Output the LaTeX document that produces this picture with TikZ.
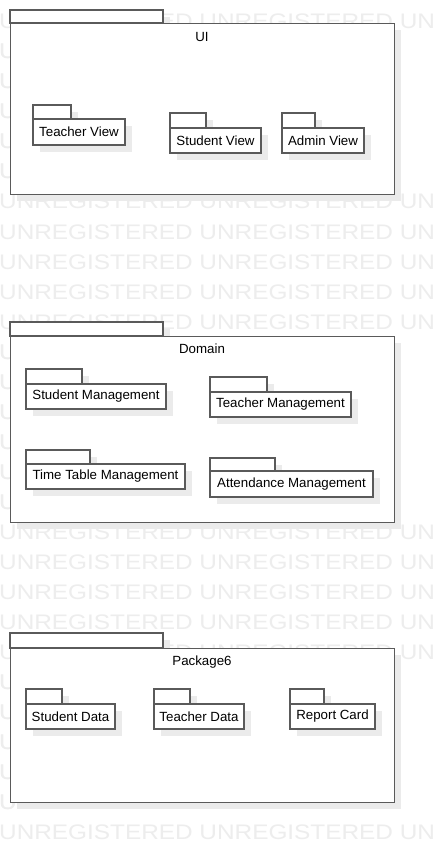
\documentclass[tikz,border=0pt]{standalone}
\usepackage{fontspec}
\setmainfont{Liberation Sans}
\definecolor{linec}{HTML}{5A5A5A}
\definecolor{shadowc}{HTML}{EBEBEB}
\definecolor{wmc}{HTML}{EDEDED}
\newlength\wmoff
\tikzset{
  pkgline/.style={draw=linec, line width=1.4pt, fill=white},
  pkgbody/.style={pkgline, anchor=north west, inner sep=0pt, outer sep=0pt,
    font=\fontsize{13.3}{15}\selectfont, text=black},
  pkgtitle/.style={font=\fontsize{13.3}{15}\selectfont, text=black, inner sep=0pt},
  wm/.style={anchor=base west, inner sep=0pt, text=wmc, font=\fontsize{21}{21}\selectfont}
}
% #1 name, #2 x left, #3 tab top, #4 tab right, #5 body top, #6 body right, #7 body bottom, #8 label
\newcommand\pkgsmall[8]{%
  \fill[shadowc] (#2+7,#3+7) rectangle (#4+7,#5+7);
  \fill[shadowc] (#2+7,#5+7) rectangle (#6+7,#7+7);
  \draw[pkgline] (#2,#3) rectangle (#4,#5);
  \node[pkgbody, minimum width={(#6-#2)*1pt}, minimum height={(#7-#5)*1pt}] (#1) at (#2,#5) {#8};
}
% big package: #1 name, #2 tab top, #3 body top, #4 body bottom, #5 title y, #6 label
\newcommand\pkgbig[6]{%
  \fill[shadowc] (17,#2+7) rectangle (170,#3+7);
  \fill[shadowc] (17,#3+7) rectangle (401,#4+7);
  \draw[pkgline] (10,#2) rectangle (163,#3);
  \node[pkgline, anchor=north west, inner sep=0pt, minimum width=384pt, minimum height={(#4-#3)*1pt}] (#1) at (10,#3) {};
  \node[pkgtitle] (#1title) at (202,#5) {#6};
}
\begin{document}
\begin{tikzpicture}[x=1pt,y=-1pt]
\useasboundingbox (0,0) rectangle (434,842);
\fill[white] (0,0) rectangle (434,842);
\settowidth\wmoff{\fontsize{21}{21}\selectfont UNREGISTERED UNREGISTERED }
\pgfmathsetmacro\wmx{-1+1.16*\wmoff}
% watermark: full rows where visible
\foreach \i in {0,6,7,8,9,10,17,18,19,20,21,27}{
  \node[wm] (wm\i) at (-1,29+30*\i) {\scalebox{1.16}[1]{UNREGISTERED UNREGISTERED UN}};
}
% watermark: rows hidden behind packages, only the edge pieces show
\foreach \i in {1,2,3,4,5,11,12,13,14,15,16,22,23,24,25,26}{
  \node[wm] (wml\i) at (-1,29+30*\i) {\scalebox{1.16}[1]{U}};
  \node[wm] (wmr\i) at (\wmx,29+30*\i) {\scalebox{1.16}[1]{UN}};
}
% UI
\pkgbig{ui}{10}{23}{194}{37}{UI}
\pkgsmall{tv}{33}{105}{71}{119}{125}{145}{Teacher View}
\pkgsmall{sv}{170}{113}{206}{128}{261}{153}{Student View}
\pkgsmall{av}{282}{113}{315}{128}{364}{153}{Admin View}
% Domain
\pkgbig{dom}{322}{336}{522}{349}{Domain}
\pkgsmall{sm}{26}{369}{82}{384}{166}{409}{Student Management}
\pkgsmall{tm}{210}{377}{267}{392}{351}{417}{Teacher Management}
\pkgsmall{ttm}{26}{450}{90}{464}{185}{489}{Time Table Management}
\pkgsmall{am}{210}{458}{275}{471}{373}{497}{Attendance Management}
% Package6
\pkgbig{p6}{633}{648}{802}{662}{Package6}
\pkgsmall{sd}{26}{689}{62}{704}{115}{729}{Student Data}
\pkgsmall{td}{154}{689}{190}{704}{244}{729}{Teacher Data}
\pkgsmall{rc}{290}{689}{324}{704}{375}{729}{Report Card}
\end{tikzpicture}
\end{document}
